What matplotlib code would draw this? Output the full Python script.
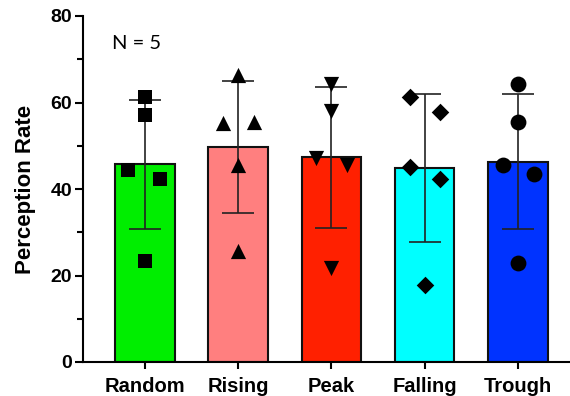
import numpy as np
import matplotlib.pyplot as plt
from matplotlib.ticker import MultipleLocator

# values (five subjects per condition)
conditions = ["Random", "Rising", "Peak", "Falling", "Trough"]
random_pts = [61.3, 57.1, 44.5, 42.2, 23.3]
rising_pts = [66.4, 55.3, 55.5, 45.6, 25.6]
peak_pts = [64.3, 58.1, 47.2, 45.6, 21.7]
falling_pts = [61.3, 57.8, 45.2, 42.2, 17.7]
trough_pts = [64.3, 55.5, 45.6, 43.5, 22.8]

points = [random_pts, rising_pts, peak_pts, falling_pts, trough_pts]
colors = ["#00EE00", "#FF7F7F", "#FF2000", "#00FFFF", "#0033FF"]
markers = ["s", "^", "v", "D", "o"]
marker_sizes = [110, 120, 120, 80, 130]

# horizontal scatter of points inside each bar (GraphPad-style spread)
jitter = [
    [0, 0, -0.18, 0.16, 0],
    [0, -0.16, 0.17, 0, 0],
    [0, 0, -0.17, 0.17, 0],
    [-0.16, 0.17, -0.16, 0.17, 0],
    [0, 0, -0.16, 0.17, 0],
]

means = [np.mean(p) for p in points]
sds = [np.std(p, ddof=1) for p in points]

fig = plt.figure(figsize=(5.7, 3.96), dpi=100)
ax = fig.add_axes([83 / 570, 34 / 396, 487 / 570, 346 / 396])

x = np.arange(len(conditions))
ax.bar(x, means, width=0.64, color=colors, edgecolor="#111111",
       linewidth=1.5, zorder=1)
ax.errorbar(x, means, yerr=sds, fmt="none", ecolor="#222222",
            elinewidth=1.2, capsize=11.5, capthick=1.2, zorder=2)

for i, pts in enumerate(points):
    xs = x[i] + np.array(jitter[i])
    ax.scatter(xs, pts, marker=markers[i], s=marker_sizes[i], c="black",
               linewidths=0, zorder=3)

ax.set_xlim(-0.665, 4.56)
ax.set_ylim(0, 80)
ax.yaxis.set_major_locator(MultipleLocator(20))
ax.yaxis.set_minor_locator(MultipleLocator(10))
ax.set_xticks(x)
ax.set_xticklabels(conditions, fontsize=14.5, fontweight="bold",
                   family="Liberation Sans")
for lab in ax.get_yticklabels():
    lab.set_fontsize(14)
    lab.set_fontweight("bold")
    lab.set_family("Liberation Sans")

ax.set_ylabel("Perception Rate", fontsize=16, fontweight="bold",
              family="Liberation Sans", labelpad=10)

ax.spines["top"].set_visible(False)
ax.spines["right"].set_visible(False)
ax.spines["left"].set_linewidth(1.5)
ax.spines["bottom"].set_linewidth(1.5)
ax.tick_params(axis="y", which="major", length=6, width=1.5, pad=2)
ax.tick_params(axis="y", which="minor", length=4, width=1.5)
ax.tick_params(axis="x", length=5, width=1.5, pad=6)

ax.text(0.06, 0.92, "N = 5", transform=ax.transAxes, fontsize=14.5,
        family="Lato", va="center", ha="left")

fig.savefig("out.png", dpi=100)
